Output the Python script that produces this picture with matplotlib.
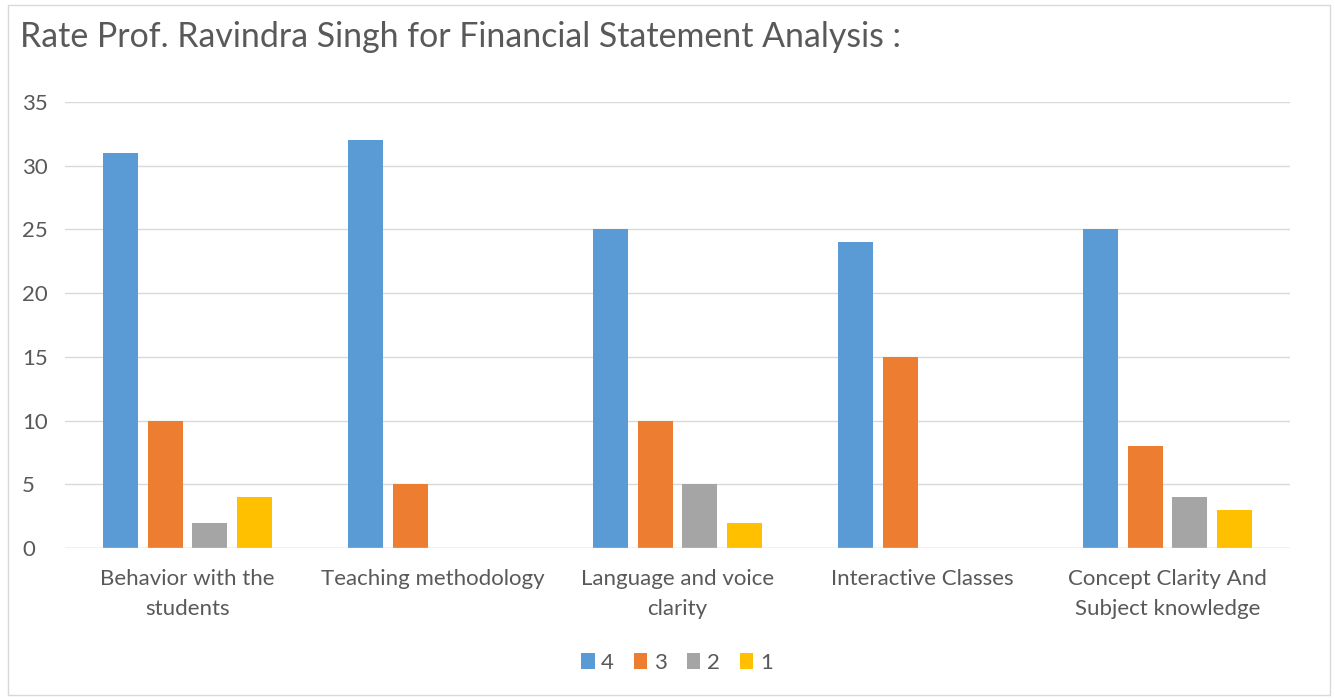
import matplotlib
matplotlib.use("Agg")
import matplotlib.pyplot as plt
import numpy as np
from matplotlib.patches import Rectangle

categories = ["Behavior with the\nstudents", "Teaching methodology", "Language and voice\nclarity",
              "Interactive Classes", "Concept Clarity And\nSubject knowledge"]
series_names = ["4", "3", "2", "1"]
values_4 = [31, 32, 25, 24, 25]
values_3 = [10, 5, 10, 15, 8]
values_2 = [2, 0, 5, 0, 4]
values_1 = [4, 0, 2, 0, 3]
colors = ["#5B9BD5", "#ED7D31", "#A5A5A5", "#FFC000"]
yticks = [0, 5, 10, 15, 20, 25, 30, 35]

plt.rcParams['font.family'] = ['Lato', 'DejaVu Sans']
txt = "#595959"

fig = plt.figure(figsize=(13.35, 6.98), dpi=100)
fig.patches.append(Rectangle((8/1335, 3/698), 1322/1335, 690/698, transform=fig.transFigure,
                             fill=False, edgecolor="#d9d9d9", linewidth=1))
ax = fig.add_axes([65/1335, 1-548/698, 1225/1335, 446/698])

x = np.arange(len(categories))
slot = 0.1816
width = 0.143
all_vals = [values_4, values_3, values_2, values_1]
handles = []
for i, (vals, c, n) in enumerate(zip(all_vals, colors, series_names)):
    h = ax.bar(x + (i - 1.5) * slot, vals, width=width, color=c, label=n, zorder=3, linewidth=0)
    handles.append(h)

ax.set_xlim(-0.5, len(categories) - 0.5)
ax.set_ylim(0, 35)
ax.set_yticks(yticks)
ax.set_yticklabels([str(v) for v in yticks])
ax.set_xticks(x)
ax.set_xticklabels(categories, fontsize=16, color=txt, linespacing=1.65)
ax.tick_params(axis='y', labelsize=16, labelcolor=txt, length=0)
ax.tick_params(axis='x', length=0, pad=15)
for lab in ax.get_yticklabels():
    lab.set_horizontalalignment('left')
ax.yaxis.set_tick_params(pad=31)
ax.grid(axis='y', color="#d9d9d9", linewidth=1, zorder=0)
for s in ax.spines.values():
    s.set_visible(False)
ax.axhline(0, color="#d9d9d9", linewidth=1, zorder=4)

fig.text(20/1335, 1-37/698, "Rate Prof. Ravindra Singh for Financial Statement Analysis :",
         fontsize=24.4, color=txt, va='center', ha='left')

fig.legend(handles=handles, labels=series_names, loc='center', bbox_to_anchor=(677/1335, 1-663/698),
           ncol=4, frameon=False, fontsize=16, labelcolor=txt, handlelength=0.6, handleheight=0.7,
           handletextpad=0.3, columnspacing=0.9)

fig.savefig("out.png", dpi=100)
